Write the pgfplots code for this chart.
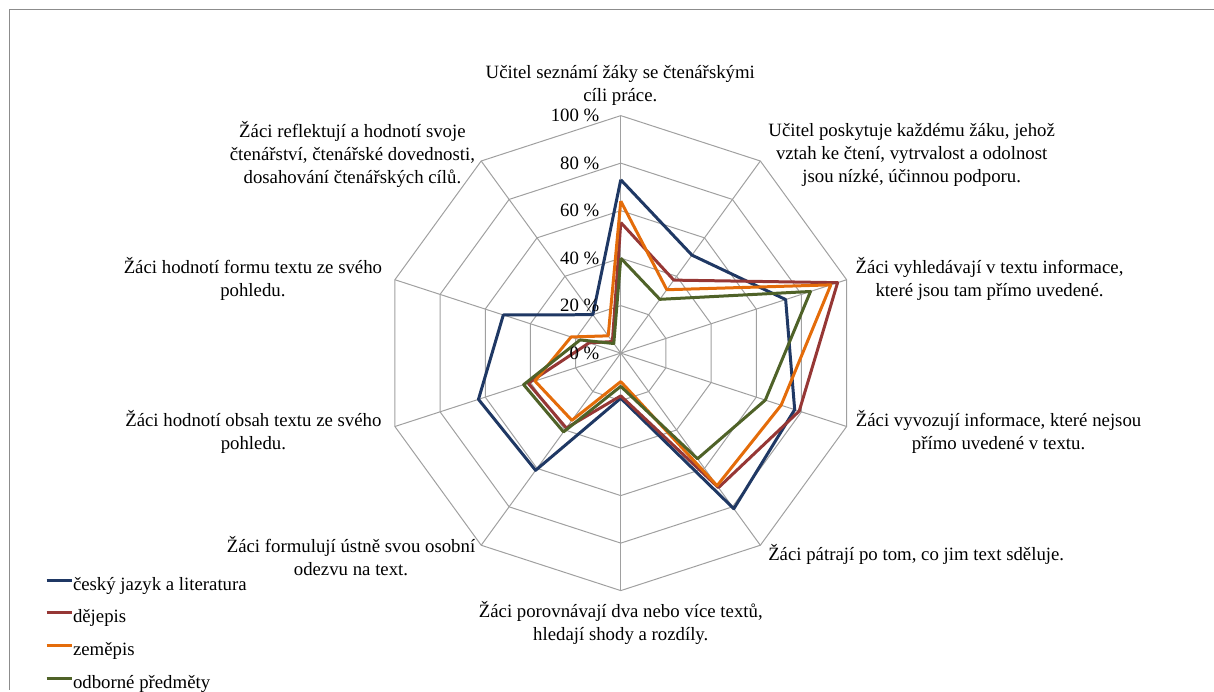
\documentclass[border=0pt]{standalone}
\usepackage{fontspec}
\setmainfont{Liberation Serif}
\usepackage{pgfplots}
\usepackage{pgfplotstable}
\pgfplotsset{compat=1.18}

\definecolor{cjl}{RGB}{31,56,100}
\definecolor{dej}{RGB}{150,55,53}
\definecolor{zem}{RGB}{228,108,10}
\definecolor{odb}{RGB}{79,98,40}
\definecolor{gridgray}{RGB}{160,160,160}
\definecolor{framegray}{RGB}{140,140,140}

% angle of each spoke (clockwise from the top) and the share in % per subject
\pgfplotstableread{
angle cjl dej zem odb
90    73  55  64  40
54    51  38  33  28
18    73  96  93  84
-18   77  79  71  64
-54   81  70  69  55
-90   19  18  12  14
-126  61  39  35  41
-162  63  41  38  43
-198  52  14  22  18
-234  20   6   9   5
-270  73  55  64  40
}\radar

\newcommand\lblfont{\fontsize{9.4}{11.5}\selectfont}
\tikzset{lbl/.style={font=\lblfont, align=center, inner sep=0pt}}

\begin{document}
\begin{tikzpicture}
\begin{axis}[
  x=1.188pt, y=1.188pt,
  xmin=-261.4, xmax=249.6, ymin=-141.7, ymax=148.7,
  hide axis, clip=false,
  legend cell align=left,
  legend style={draw=none, fill=none, inner sep=0pt, outer sep=0pt,
    at={(0.0371,0.1645)}, anchor=north west, font=\lblfont,
    row sep=7.9pt,
    nodes={inner sep=0pt, text height=7pt, text depth=1.5pt}},
  legend image code/.code={\draw[#1] (0pt,2.3pt) -- (12.5pt,2.3pt);},
  every axis plot/.append style={data cs=polar},
]
% page extent
\path (axis cs:-261.4,-141.7) rectangle (axis cs:249.6,148.7);

% decagonal grid rings
\pgfplotsinvokeforeach{20,40,60,80,100}{
  \addplot[gridgray, line width=0.5pt, forget plot] coordinates
    {(90,#1)(54,#1)(18,#1)(-18,#1)(-54,#1)(-90,#1)(-126,#1)(-162,#1)(-198,#1)(-234,#1)(-270,#1)};
}
% spokes
\pgfplotsinvokeforeach{90,54,18,-18,-54,-90,-126,-162,-198,-234}{
  \addplot[gridgray, line width=0.5pt, forget plot] coordinates {(#1,0)(#1,100)};
}

% series
\addplot[cjl, line width=1.5pt, line join=round] table[x=angle, y=cjl] {\radar};
\addplot[dej, line width=1.5pt, line join=round] table[x=angle, y=dej] {\radar};
\addplot[zem, line width=1.5pt, line join=round] table[x=angle, y=zem] {\radar};
\addplot[odb, line width=1.5pt, line join=round] table[x=angle, y=odb] {\radar};
\legend{český jazyk a literatura, dějepis, zeměpis, odborné předměty}

% radial tick labels
\pgfplotsinvokeforeach{0,20,40,60,80,100}{
  \node[lbl, anchor=east] at (axis cs:-8.84,#1) {#1 \%};
}

% spoke labels
\node[lbl] at (axis cs:-0.2,112.7) {Učitel seznámí žáky se čtenářskými\\cíli práce.};
\node[lbl] at (axis cs:122.5,83.5) {Učitel poskytuje každému žáku, jehož\\vztah ke čtení, vytrvalost a odolnost\\jsou nízké, účinnou podporu.};
\node[lbl] at (axis cs:155.3,31.1) {Žáci vyhledávají v textu informace,\\které jsou tam přímo uvedené.};
\node[lbl] at (axis cs:159.1,-33.3) {Žáci vyvozují informace, které nejsou\\přímo uvedené v textu.};
\node[lbl] at (axis cs:124.4,-84.9) {Žáci pátrají po tom, co jim text sděluje.};
\node[lbl] at (axis cs:0,-113.7) {Žáci porovnávají dva nebo více textů,\\hledají shody a rozdíly.};
\node[lbl] at (axis cs:-113.6,-85.6) {Žáci formulují ústně svou osobní\\odezvu na text.};
\node[lbl] at (axis cs:-154.7,-33.3) {Žáci hodnotí obsah textu ze svého\\pohledu.};
\node[lbl] at (axis cs:-154.9,31.1) {Žáci hodnotí formu textu ze svého\\pohledu.};
\node[lbl] at (axis cs:-113.0,83.5) {Žáci reflektují a hodnotí svoje\\čtenářství, čtenářské dovednosti,\\dosahování čtenářských cílů.};

% chart area border
\draw[framegray, line width=0.5pt] (axis cs:-257.2,-141.7) -- (axis cs:-257.2,144.5) -- (axis cs:249.6,144.5);
\end{axis}
\end{tikzpicture}
\end{document}
